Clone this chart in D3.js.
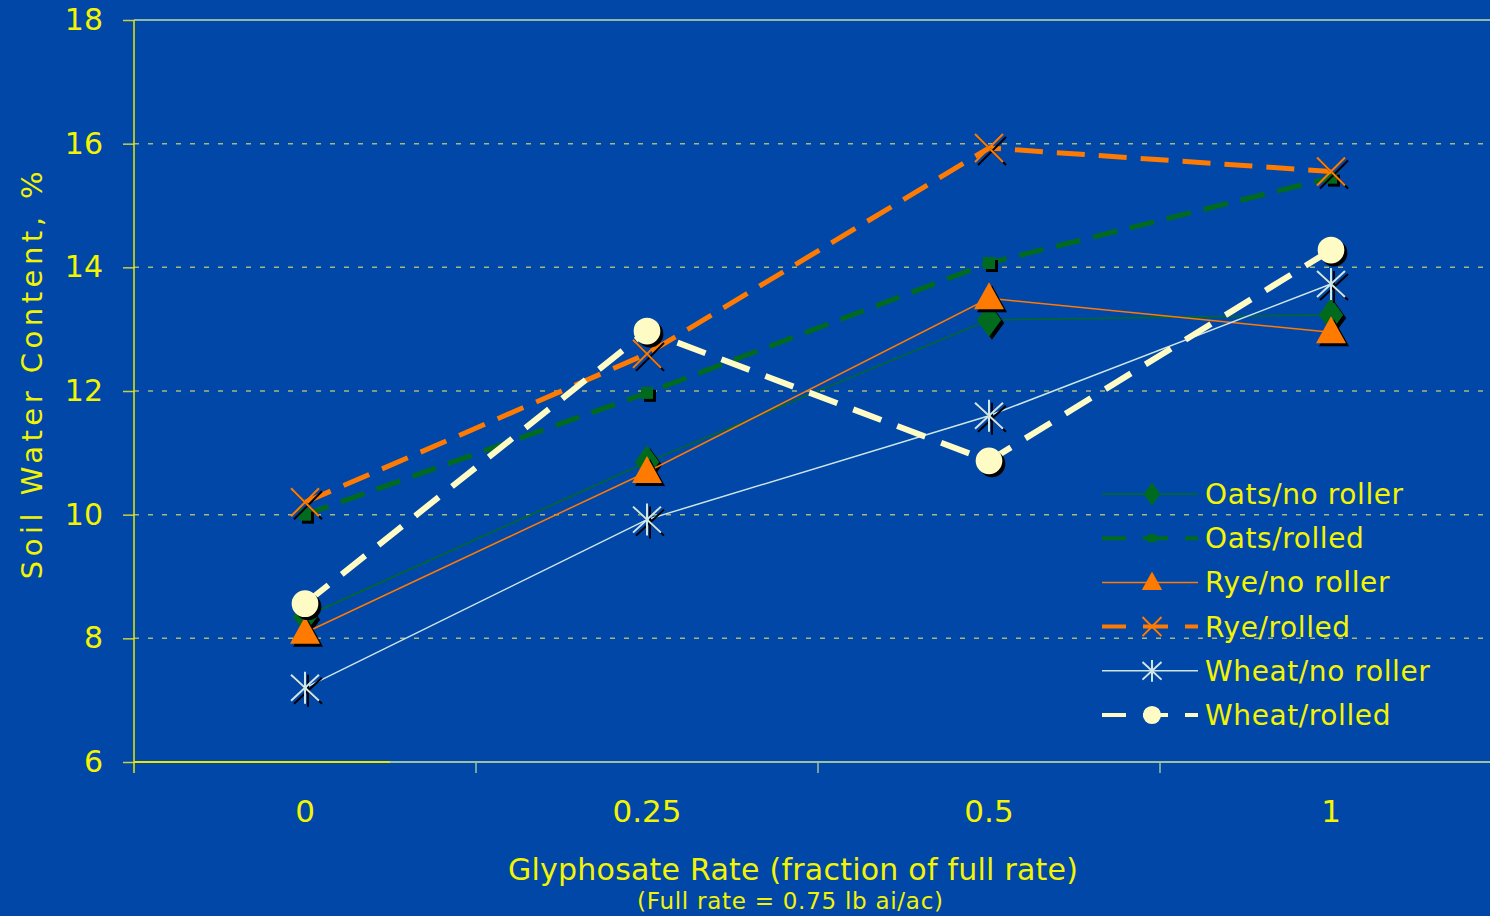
<!DOCTYPE html>
<html>
<head>
<meta charset="utf-8">
<script src="https://cdn.jsdelivr.net/npm/d3@7"></script>
<style>
  html, body { margin: 0; padding: 0; background: #0047a8; }
  svg { display: block; }
</style>
</head>
<body>
<div id="chart"></div>
<script>
// Chart data
var categories = ["0", "0.25", "0.5", "1"];
var seriesNames = ["Oats/no roller", "Oats/rolled", "Rye/no roller", "Rye/rolled", "Wheat/no roller", "Wheat/rolled"];
var oatsNoRoller  = [8.35, 10.85, 13.15, 13.23];
var oatsRolled    = [10.0, 11.97, 14.07, 15.45];
var ryeNoRoller   = [8.09, 10.69, 13.5, 12.95];
var ryeRolled     = [10.2, 12.6, 15.93, 15.55];
var wheatNoRoller = [7.2, 9.92, 11.6, 13.73];
var wheatRolled   = [8.56, 12.97, 10.87, 14.28];
var yTicks = [6, 8, 10, 12, 14, 16, 18];

var seriesValues = [oatsNoRoller, oatsRolled, ryeNoRoller, ryeRolled, wheatNoRoller, wheatRolled];

// Look of each series
var styles = [
  {color: "#006b1e", width: 1.5, dash: null,    marker: "diamond"},
  {color: "#006b1e", width: 5,   dash: "25,13", marker: "square"},
  {color: "#ff7a00", width: 1.5, dash: null,    marker: "triangle"},
  {color: "#ff7a00", width: 5,   dash: "28,14", marker: "cross"},
  {color: "#cfe6e6", width: 1.5, dash: null,    marker: "asterisk"},
  {color: "#fffbc4", width: 6,   dash: "30,17", marker: "circle"}
];

var W = 1490, H = 916;
var margin = {top: 20, left: 134, bottom: 154};
var plotH = H - margin.top - margin.bottom;
var bandW = 342;
var textColor = "#f4f400";
var font = "'DejaVu Sans', Verdana, sans-serif";

var svg = d3.select("#chart").append("svg")
  .attr("width", W)
  .attr("height", H)
  .style("background", "#0047a8");

var xScale = d3.scaleBand().domain(categories).range([margin.left, margin.left + bandW * categories.length]);
var yScale = d3.scaleLinear().domain([6, 18]).range([margin.top + plotH, margin.top]);
var xc = function(c) { return xScale(c) + xScale.bandwidth() / 2; };

// Grid lines
svg.append("g").selectAll("line")
  .data(yTicks.filter(function(t) { return t > 6 && t < 18; }))
  .enter().append("line")
  .attr("x1", margin.left).attr("x2", W)
  .attr("y1", function(d) { return yScale(d); })
  .attr("y2", function(d) { return yScale(d); })
  .attr("stroke", "#a8b878")
  .attr("stroke-width", 1.5)
  .attr("stroke-dasharray", "5,9");

// Top border
svg.append("line")
  .attr("x1", margin.left).attr("x2", W)
  .attr("y1", yScale(18)).attr("y2", yScale(18))
  .attr("stroke", "#8fb8a8").attr("stroke-width", 2);

// Y axis
var yAxis = svg.append("g")
  .attr("transform", "translate(" + margin.left + ",0)")
  .call(d3.axisLeft(yScale).tickValues(yTicks).tickSize(11).tickPadding(20));
yAxis.select(".domain").remove();
yAxis.selectAll(".tick line").attr("stroke", "#c8d040").attr("stroke-width", 1.5);
yAxis.selectAll(".tick text")
  .attr("fill", textColor).attr("font-family", font).attr("font-size", 30);
svg.append("line")
  .attr("x1", margin.left).attr("x2", margin.left)
  .attr("y1", yScale(18)).attr("y2", yScale(6) + 11)
  .attr("stroke", "#e8e800").attr("stroke-width", 1.5);

// X axis
var xAxis = svg.append("g")
  .attr("transform", "translate(0," + yScale(6) + ")")
  .call(d3.axisBottom(xScale).tickSize(0).tickPadding(38));
xAxis.select(".domain").remove();
xAxis.selectAll(".tick text")
  .attr("fill", textColor).attr("font-family", font).attr("font-size", 31);
svg.append("line")
  .attr("x1", margin.left).attr("x2", W)
  .attr("y1", yScale(6)).attr("y2", yScale(6))
  .attr("stroke", "#9cc0a0").attr("stroke-width", 2);
svg.append("line")
  .attr("x1", margin.left).attr("x2", 390)
  .attr("y1", yScale(6)).attr("y2", yScale(6))
  .attr("stroke", "#e8e800").attr("stroke-width", 2);
svg.append("g").selectAll("line")
  .data(categories.slice(1))
  .enter().append("line")
  .attr("x1", function(d) { return xScale(d); })
  .attr("x2", function(d) { return xScale(d); })
  .attr("y1", yScale(6)).attr("y2", yScale(6) + 11)
  .attr("stroke", "#9cc0a0").attr("stroke-width", 1.5);

// Axis titles
svg.append("text")
  .attr("transform", "translate(42," + 373 + ") rotate(-90)")
  .attr("text-anchor", "middle")
  .attr("fill", textColor).attr("font-family", font).attr("font-size", 29)
  .attr("letter-spacing", 4.5)
  .text("Soil Water Content, %");

svg.append("text")
  .attr("x", 793).attr("y", 880)
  .attr("text-anchor", "middle")
  .attr("fill", textColor).attr("font-family", font).attr("font-size", 30)
  .attr("textLength", 570)
  .text("Glyphosate Rate (fraction of full rate)");

svg.append("text")
  .attr("x", 790).attr("y", 909)
  .attr("text-anchor", "middle")
  .attr("fill", textColor).attr("font-family", font).attr("font-size", 23)
  .attr("textLength", 306)
  .text("(Full rate = 0.75 lb ai/ac)");

// Marker drawing
function drawMarker(g, type, x, y, color, shadow, k) {
  k = k || 1;
  var fill = shadow ? "#000" : color;
  var tr = "translate(" + x + "," + y + ") scale(" + k + ")";
  if (type === "diamond") {
    g.append("path").attr("d", d3.symbol(d3.symbolDiamond, 330)())
      .attr("transform", tr + " scale(1.25,1)")
      .attr("fill", fill);
  } else if (type === "square") {
    g.append("rect").attr("x", -6).attr("y", -6).attr("width", 12).attr("height", 12)
      .attr("transform", tr).attr("fill", fill);
  } else if (type === "triangle") {
    g.append("path").attr("d", "M0,-16L15,11L-15,11Z")
      .attr("transform", tr).attr("fill", fill);
  } else if (type === "circle") {
    g.append("path").attr("d", d3.symbol(d3.symbolCircle, 560)())
      .attr("transform", tr).attr("fill", fill);
  } else if (type === "cross") {
    g.append("path").attr("d", "M-14,-14L14,14M-14,14L14,-14")
      .attr("transform", tr)
      .attr("stroke", shadow ? "#000" : color).attr("stroke-width", 2 / k).attr("fill", "none");
  } else if (type === "asterisk") {
    g.append("path").attr("d", "M-14,-13L14,13M-14,13L14,-13M0,-16L0,16")
      .attr("transform", tr)
      .attr("stroke", shadow ? "#000" : color).attr("stroke-width", 2 / k).attr("fill", "none");
  }
}

var line = d3.line()
  .x(function(d, i) { return xc(categories[i]); })
  .y(function(d) { return yScale(d); });

// Series, in Excel's drawing order
seriesValues.forEach(function(vals, s) {
  var st = styles[s];
  var g = svg.append("g").attr("class", "series");
  g.append("path")
    .datum(vals)
    .attr("d", line)
    .attr("fill", "none")
    .attr("stroke", st.color)
    .attr("stroke-width", st.width)
    .attr("stroke-dasharray", st.dash);
  vals.forEach(function(v, i) {
    drawMarker(g, st.marker, xc(categories[i]) + 3, yScale(v) + 3, st.color, true);
    drawMarker(g, st.marker, xc(categories[i]), yScale(v), st.color, false);
  });
});

// Legend
var legend = svg.append("g").attr("transform", "translate(1102,494)");
seriesNames.forEach(function(name, s) {
  var st = styles[s];
  var row = legend.append("g").attr("transform", "translate(0," + (s * 44.2) + ")");
  row.append("line").attr("x1", 0).attr("x2", 96).attr("y1", 0).attr("y2", 0)
    .attr("stroke", st.color).attr("stroke-width", st.dash ? 4 : st.width)
    .attr("stroke-dasharray", st.dash ? "24,17,25,17,13" : null);
  drawMarker(row, st.marker, 50, 0, st.color, false, 0.68);
  row.append("text")
    .attr("x", 103).attr("y", 10)
    .attr("fill", textColor).attr("font-family", font).attr("font-size", 28)
    .attr("letter-spacing", 0.6)
    .text(name);
});
</script>
</body>
</html>
